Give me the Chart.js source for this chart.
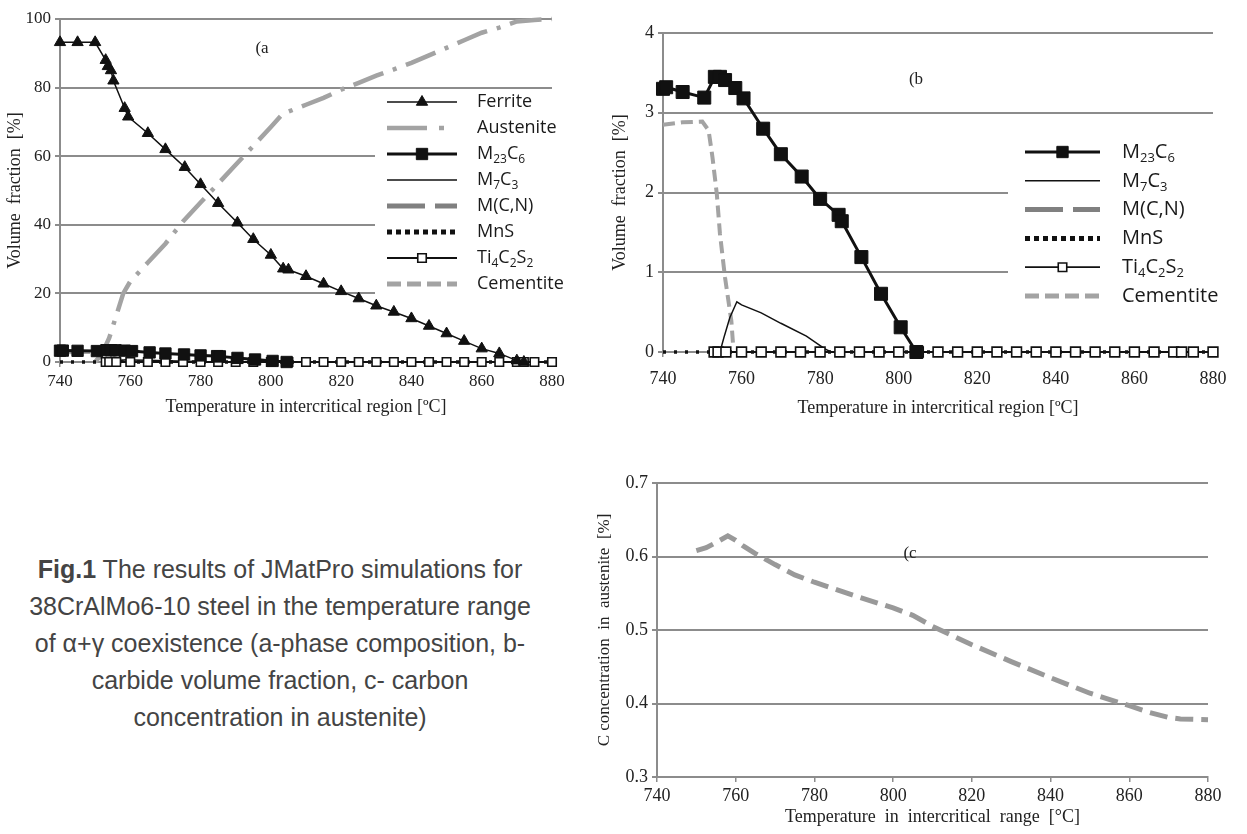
<!DOCTYPE html>
<html>
<head>
<meta charset="utf-8">
<script src="https://cdn.jsdelivr.net/npm/chart.js@4.4.0/dist/chart.umd.min.js"></script>
<style>
  body { margin: 0; background: #fff; width: 1247px; height: 834px; position: relative; overflow: hidden; }
  .panel { position: absolute; }
  .panel canvas { display: block; }
  .tag { position: absolute; transform: translate(-50%, -50%); font-family: 'Liberation Serif', 'Times New Roman', serif; font-size: 17px; color: #222; }
  #caption { position: absolute; left: 0; top: 551px; width: 560px; text-align: center;
             font-family: 'Liberation Sans', Arial, sans-serif; font-size: 25px; line-height: 37px; color: #444; }
</style>
</head>
<body>
<div class="panel" style="left:0;top:0"><canvas id="chartA" width="600" height="425"></canvas></div>
<div class="panel" style="left:600px;top:0"><canvas id="chartB" width="647" height="425"></canvas></div>
<div class="panel" style="left:560px;top:440px"><canvas id="chartC" width="687" height="394"></canvas></div>
<span class="tag" style="left:262px;top:48px">(a</span>
<span class="tag" style="left:916px;top:79px">(b</span>
<span class="tag" style="left:910px;top:553px">(c</span>
<div id="caption"><b>Fig.1</b> The results of JMatPro simulations for<br>38CrAlMo6-10 steel in the temperature range<br>of α+γ coexistence (a-phase composition, b-<br>carbide volume fraction, c- carbon<br>concentration in austenite)</div>

<script>
// temperature axis, °C
const tempTicks = [740, 760, 780, 800, 820, 840, 860, 880];
const phaseTicks = [0, 20, 40, 60, 80, 100];
const carbideTicks = [0, 1, 2, 3, 4];
const carbonTicks = [0.3, 0.4, 0.5, 0.6, 0.7];

// series names, "_n" marks a subscript
const seriesNames = ['Ferrite', 'Austenite', 'M_23C_6', 'M_7C_3', 'M(C,N)', 'MnS', 'Ti_4C_2S_2', 'Cementite'];

// phase composition [%]
const ferriteT = [740, 745, 750, 753, 753.6, 754.5, 755.2, 758.4, 759.4, 765, 770, 775.5, 780, 785, 790.5, 795, 800, 803.5, 805, 810, 815, 820, 825, 830, 835, 840, 845, 850, 855, 860, 865, 870, 872];
const ferriteVol = [93.2, 93.2, 93.2, 88, 86.2, 85, 82, 74, 71.5, 66.7, 62, 56.8, 51.8, 46.3, 40.6, 35.8, 31.2, 27.2, 26.9, 25, 22.8, 20.6, 18.5, 16.4, 14.6, 12.7, 10.5, 8.3, 6.1, 3.9, 2.5, 0.4, 0];

const austeniteT = [750, 752, 754, 756, 758, 760, 765, 770, 775, 780, 785, 790, 795, 800, 803.5, 805, 810, 815, 820, 825, 830, 835, 840, 845, 850, 855, 860, 865, 870, 875, 880];
const austeniteVol = [0, 2.5, 7, 13.5, 20, 23.5, 29, 34.5, 41, 46.5, 52, 57.5, 63, 68.5, 72.5, 73, 75, 77, 79.4, 81.4, 83.5, 85.3, 87.2, 89.4, 91.6, 93.8, 96, 97.5, 99.3, 99.7, 100];

// carbides [%]
const m23T = [740, 740.8, 745, 750.5, 753.2, 754.5, 755.8, 758.4, 760.5, 765.5, 770, 775.3, 780, 784.7, 785.5, 790.5, 795.5, 800.5, 804.5];
const m23Vol = [3.3, 3.32, 3.26, 3.19, 3.45, 3.45, 3.41, 3.31, 3.18, 2.8, 2.48, 2.2, 1.92, 1.72, 1.64, 1.19, 0.73, 0.31, 0];

const m7T = [753, 754.5, 755.5, 757, 758.8, 760, 765, 770, 776.5, 781.2, 782.8];
const m7Vol = [0, 0, 0.18, 0.43, 0.63, 0.59, 0.49, 0.36, 0.2, 0.04, 0];

const mcnT = [];
const mcnVol = [];

const mnsT = [740, 753, 880];
const mnsVol = [0, 0, 0];

const tiT = [753, 754, 756, 760, 765, 770, 775, 780, 785, 790, 795, 800, 805, 810, 815, 820, 825, 830, 835, 840, 845, 850, 855, 860, 865, 870, 872, 875, 880];
const tiVol = [0, 0, 0, 0, 0, 0, 0, 0, 0, 0, 0, 0, 0, 0, 0, 0, 0, 0, 0, 0, 0, 0, 0, 0, 0, 0, 0, 0, 0];

const cementiteT = [740, 745, 750, 751.6, 752.6, 753.7, 754.5, 755.8, 757.4, 757.9];
const cementiteVol = [2.85, 2.88, 2.89, 2.78, 2.44, 1.98, 1.48, 0.93, 0.39, 0.05];

// carbon in austenite [%]
const carbonT = [750, 752.5, 755, 758, 760, 762, 765, 770, 775, 780, 790, 800, 805, 810, 820, 830, 840, 850, 860, 865, 870, 873, 880];
const carbonPct = [0.608, 0.612, 0.619, 0.628, 0.622, 0.614, 0.604, 0.589, 0.575, 0.565, 0.547, 0.530, 0.520, 0.505, 0.480, 0.457, 0.435, 0.414, 0.397, 0.388, 0.381, 0.379, 0.378];

const axisGray = '#8c8c8c';
const lineGray = '#a3a3a3';
const textColor = '#222';
const serif = "'Liberation Serif', 'Times New Roman', serif";

function pts(xs, ys) {
  return xs.map((x, i) => ({ x: x, y: ys[i] }));
}

// legend with line sample + marker, labels with subscripts
const sampleLegend = {
  id: 'sampleLegend',
  beforeDatasetsDraw(chart, args, opts) {
    const ctx = chart.ctx;
    ctx.save();
    ctx.fillStyle = '#fff';
    ctx.fillRect(opts.box[0], opts.box[1], opts.box[2], opts.box[3]);
    ctx.restore();
  },
  afterDraw(chart, args, opts) {
    const ctx = chart.ctx;
    ctx.save();
    opts.items.forEach((item, i) => {
      const ds = chart.data.datasets[item.ds];
      const y = opts.top + i * opts.gap;
      ctx.strokeStyle = ds.borderColor;
      ctx.lineWidth = item.width || ds.borderWidth;
      ctx.lineCap = 'butt';
      ctx.setLineDash(item.dash || ds.borderDash || []);
      ctx.beginPath();
      ctx.moveTo(opts.x1, y);
      ctx.lineTo(opts.x2, y);
      ctx.stroke();
      ctx.setLineDash([]);
      if (ds.pointRadius > 0) {
        ctx.fillStyle = ds.pointBackgroundColor;
        ctx.strokeStyle = ds.pointBorderColor;
        ctx.lineWidth = ds.pointBorderWidth;
        Chart.helpers.drawPoint(ctx, { pointStyle: ds.pointStyle, rotation: 0, radius: item.radius || ds.pointRadius, borderWidth: ds.pointBorderWidth }, (opts.x1 + opts.x2) / 2, y);
      }
      // label text
      let x = opts.textX;
      ctx.fillStyle = '#1a1a1a';
      ctx.textBaseline = 'middle';
      ctx.textAlign = 'left';
      seriesNames[item.name].split(/(_\d+)/).forEach(part => {
        if (!part) return;
        const sub = part[0] === '_';
        const s = sub ? part.slice(1) : part;
        ctx.font = (sub ? opts.subSize : opts.size) + "px 'Open Sans', sans-serif";
        ctx.fillText(s, x, sub ? y + opts.size * 0.3 : y);
        x += ctx.measureText(s).width;
      });
    });
    ctx.restore();
  }
};

function panelOptions(p) {
  return {
    responsive: false,
    animation: false,
    events: [],
    layout: { padding: { left: 0, top: p.top, right: p.right, bottom: 0 } },
    plugins: { legend: { display: false }, tooltip: { enabled: false }, sampleLegend: p.legend || false },
    scales: {
      x: {
        type: 'linear', min: 740, max: 880,
        afterBuildTicks: s => { s.ticks = tempTicks.map(v => ({ value: v })); },
        afterFit: s => { s.height = p.xHeight; },
        grid: { drawOnChartArea: false, drawTicks: true, tickLength: 5, color: axisGray, lineWidth: 1.5 },
        border: { color: axisGray, width: 2 },
        ticks: { font: { family: serif, size: p.xFont || 17 }, color: textColor, padding: p.xPad, maxRotation: 0 },
        title: { display: true, text: p.xTitle, font: { family: serif, size: 18 }, color: textColor, padding: { top: 0, bottom: p.xTitlePad } }
      },
      y: {
        type: 'linear', min: p.yTicks[0], max: p.yTicks[p.yTicks.length - 1],
        afterBuildTicks: s => { s.ticks = p.yTicks.map(v => ({ value: v })); },
        afterFit: s => { s.width = p.yWidth; },
        grid: { color: axisGray, lineWidth: 2, drawTicks: true, tickLength: 5 },
        border: { color: axisGray, width: 2 },
        ticks: { font: { family: serif, size: p.yFont || 17 }, color: textColor, padding: 4, callback: p.yFmt || (v => v) },
        title: { display: true, text: p.yTitle, font: { family: serif, size: p.yTitleSize || 18 }, color: textColor, padding: { top: p.yTitlePad, bottom: 0 } }
      }
    }
  };
}

// carbide datasets, shared by panels (a) and (b); r = marker scale
function carbideSets(r) {
  return [
    { label: 'M23C6', data: pts(m23T, m23Vol), order: 1, borderColor: '#111', borderWidth: 3,
      pointStyle: 'rect', pointRadius: 8 * r, pointBackgroundColor: '#111', pointBorderColor: '#111', pointBorderWidth: 1 },
    { label: 'M7C3', data: pts(m7T, m7Vol), order: 3, borderColor: '#111', borderWidth: 1.5, pointRadius: 0 },
    { label: 'M(C,N)', data: pts(mcnT, mcnVol), order: 5, borderColor: '#808080', borderWidth: 5, borderDash: [38, 10], pointRadius: 0 },
    { label: 'MnS', data: pts(mnsT, mnsVol), order: 4, borderColor: '#111', borderWidth: 3.5, borderDash: [3, 8], pointRadius: 0 },
    { label: 'Ti4C2S2', data: pts(tiT, tiVol), order: 2, borderColor: '#111', borderWidth: 1.8,
      pointStyle: 'rect', pointRadius: 6 * r, pointBackgroundColor: '#fff', pointBorderColor: '#111', pointBorderWidth: 1.6 },
    { label: 'Cementite', data: pts(cementiteT, cementiteVol), order: 6, borderColor: lineGray, borderWidth: 4, borderDash: [12, 6], pointRadius: 0 }
  ];
}

Chart.defaults.datasets.line.clip = false;

// (a) phase composition
const setsA = carbideSets(1);
new Chart(document.getElementById('chartA'), {
  type: 'line',
  plugins: [sampleLegend],
  data: {
    datasets: [
      { label: 'Ferrite', data: pts(ferriteT, ferriteVol), order: 0, borderColor: '#111', borderWidth: 1.5,
        pointStyle: 'triangle', pointRadius: 6.5, pointBackgroundColor: '#111', pointBorderColor: '#111', pointBorderWidth: 1 },
      { label: 'Austenite', data: pts(austeniteT, austeniteVol), order: 7, borderColor: lineGray, borderWidth: 4.5,
        borderDash: [32, 10, 4, 10], pointRadius: 0 }
    ].concat(setsA)
  },
  options: panelOptions({
    top: 19, right: 48, xHeight: 63, yWidth: 60, xPad: 4, xTitlePad: 7, yTitlePad: 4,
    yTicks: phaseTicks, yTitle: 'Volume  fraction  [%]', xTitle: 'Temperature in intercritical region [ºC]',
    legend: {
      box: [375, 90, 225, 210], top: 102, gap: 26, x1: 387, x2: 457, textX: 477, size: 18, subSize: 12,
      items: [
        { ds: 0, name: 0 }, { ds: 1, name: 1, dash: [40, 12, 5, 40] }, { ds: 2, name: 2 }, { ds: 3, name: 3 },
        { ds: 4, name: 4 }, { ds: 5, name: 5, dash: [5, 4], width: 5 }, { ds: 6, name: 6 }, { ds: 7, name: 7, dash: [14, 6], width: 5 }
      ]
    }
  })
});

// (b) carbide volume fraction
new Chart(document.getElementById('chartB'), {
  type: 'line',
  plugins: [sampleLegend],
  data: { datasets: carbideSets(1.15) },
  options: panelOptions({
    top: 33, right: 34, xHeight: 73, yWidth: 63, xPad: 11, xTitlePad: 6, yTitlePad: 9, xFont: 18, yFont: 18,
    yTicks: carbideTicks, yTitle: 'Volume  fraction  [%]', xTitle: 'Temperature in intercritical region [ºC]',
    legend: {
      box: [408, 132, 239, 180], top: 152, gap: 28.8, x1: 425, x2: 500, textX: 522, size: 20, subSize: 13,
      items: [
        { ds: 0, name: 2, radius: 8 }, { ds: 1, name: 3 }, { ds: 2, name: 4 },
        { ds: 3, name: 5, dash: [5, 4], width: 5 }, { ds: 4, name: 6, radius: 6 }, { ds: 5, name: 7, dash: [14, 6], width: 5 }
      ]
    }
  })
});

// (c) carbon concentration in austenite
new Chart(document.getElementById('chartC'), {
  type: 'line',
  data: {
    datasets: [
      { label: 'C in austenite', data: pts(carbonT, carbonPct), borderColor: '#999', borderWidth: 5,
        borderDash: [18, 8], pointRadius: 0 }
    ]
  },
  options: panelOptions({
    top: 43, right: 39, xHeight: 57, yWidth: 97, xPad: 3, xTitlePad: 6, yTitlePad: 34, yFont: 18, xFont: 18, yTitleSize: 17,
    yTicks: carbonTicks, yFmt: v => v.toFixed(1),
    yTitle: 'C concentration  in  austenite  [%]', xTitle: 'Temperature  in  intercritical  range  [°C]'
  })
});
</script>
</body>
</html>
